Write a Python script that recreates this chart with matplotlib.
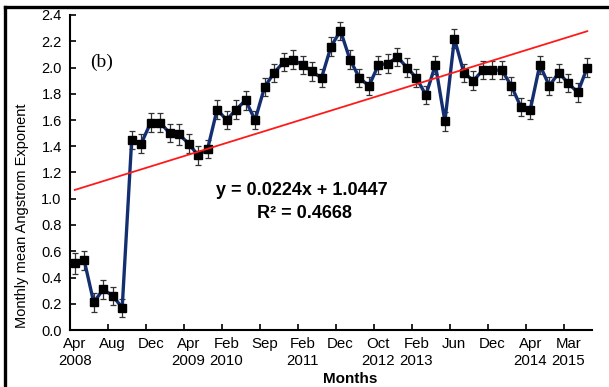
import matplotlib
matplotlib.use("Agg")
import matplotlib.pyplot as plt
from matplotlib.lines import Line2D
import numpy as np

plt.rcParams['font.family'] = ['Liberation Sans', 'DejaVu Sans']

# monthly mean Angstrom exponent, one value per available month
aod_mean = [0.51, 0.53, 0.21, 0.31, 0.26, 0.17,
            1.45, 1.42, 1.58, 1.58, 1.50, 1.49, 1.42, 1.33, 1.38,
            1.68, 1.60, 1.68, 1.75, 1.60, 1.85, 1.96, 2.04, 2.06,
            2.02, 1.97, 1.92, 2.16, 2.28, 2.06, 1.92, 1.86, 2.02,
            2.03, 2.08, 2.00, 1.92, 1.79, 2.02, 1.59, 2.22, 1.96,
            1.90, 1.98, 1.98, 1.98, 1.86, 1.70, 1.68, 2.02, 1.86,
            1.96, 1.88, 1.81, 2.00]
aod_err = [0.08, 0.07, 0.07, 0.07, 0.07, 0.07,
           0.07, 0.07, 0.07, 0.07, 0.07, 0.08, 0.07, 0.07, 0.07,
           0.07, 0.07, 0.07, 0.07, 0.07, 0.07, 0.07, 0.07, 0.07,
           0.07, 0.07, 0.07, 0.07, 0.07, 0.07, 0.07, 0.07, 0.07,
           0.07, 0.07, 0.07, 0.07, 0.07, 0.07, 0.07, 0.07, 0.07,
           0.07, 0.07, 0.07, 0.07, 0.07, 0.07, 0.07, 0.07, 0.07,
           0.07, 0.07, 0.07, 0.07]

# every 4th month gets a label
month_labels = ['Apr\n2008', 'Aug', 'Dec', 'Apr\n2009', 'Feb\n2010', 'Sep',
                'Feb\n2011', 'Dec', 'Oct\n2012', 'Feb\n2013', 'Jun', 'Dec',
                'Apr\n2014', 'Mar\n2015']

# linear trend (Excel trendline, x = 1..n)
slope = 0.0224
intercept = 1.0447
r2 = 0.4668

n = len(aod_mean)
x = np.arange(n)

fig = plt.figure(figsize=(6.09, 3.87), dpi=100)
ax = fig.add_axes([70 / 609, 57 / 387, 522 / 609, 315 / 387])

ax.errorbar(x, aod_mean, yerr=aod_err, fmt='none', ecolor='#333333',
            elinewidth=0.9, capsize=2.2, capthick=0.9, zorder=2)
ax.plot(x, aod_mean, color='#142f70', lw=2.4, zorder=3)
ax.plot(x, aod_mean, ls='none', marker='s', ms=6, color='black', zorder=4)

trend = slope * (x + 1) + intercept
ax.plot(x, trend, color='#ff1a1a', lw=1.3, zorder=5)

ax.set_xlim(-0.5, n - 0.5)
ax.set_ylim(0, 2.4)
ax.set_yticks(np.arange(0, 2.41, 0.2))
ax.set_yticklabels(['%.1f' % v for v in np.arange(0, 2.41, 0.2)], fontsize=10.5)

# tick marks between categories, labels on the categories
ax.set_xticks(np.arange(3.5, n - 1, 4))
ax.set_xticklabels([])
ax.set_xticks(np.arange(0, n, 4), minor=True)
ax.set_xticklabels(month_labels, minor=True, fontsize=10.8, linespacing=1.3)
ax.tick_params(axis='x', which='major', direction='in', length=4, width=1.2)
ax.tick_params(axis='x', which='minor', length=0, pad=5)
ax.tick_params(axis='y', direction='in', length=4, width=1.2, pad=6)

for side in ['top', 'right']:
    ax.spines[side].set_visible(False)
for side in ['left', 'bottom']:
    ax.spines[side].set_linewidth(1.5)

ax.text(0.038, 0.851, '(b)', transform=ax.transAxes, fontsize=14,
        va='center', family='Liberation Serif')
ax.text(0.444, 0.444, 'y = %.4fx + %.4f' % (slope, intercept),
        transform=ax.transAxes, ha='center', va='center', fontsize=13,
        fontweight='bold')
ax.text(0.450, 0.371, 'R\u00b2 = %.4f' % r2, transform=ax.transAxes,
        ha='center', va='center', fontsize=13, fontweight='bold')

fig.text(22 / 609, 1 - 216 / 387, 'Monthly mean Angstrom Exponent',
         rotation=90, ha='center', va='center', fontsize=10.5)
fig.text(350 / 609, 1 - 379 / 387, 'Months', ha='center', va='center',
         fontsize=11, fontweight='bold')

# border of the chart box
fig.add_artist(Line2D([5 / 609, 1], [1 - 7 / 387, 1 - 7 / 387],
                      transform=fig.transFigure, color='black', lw=2.4))
fig.add_artist(Line2D([5 / 609, 5 / 609], [0, 1 - 7 / 387],
                      transform=fig.transFigure, color='black', lw=2.4))

fig.savefig('out.png', dpi=100)
